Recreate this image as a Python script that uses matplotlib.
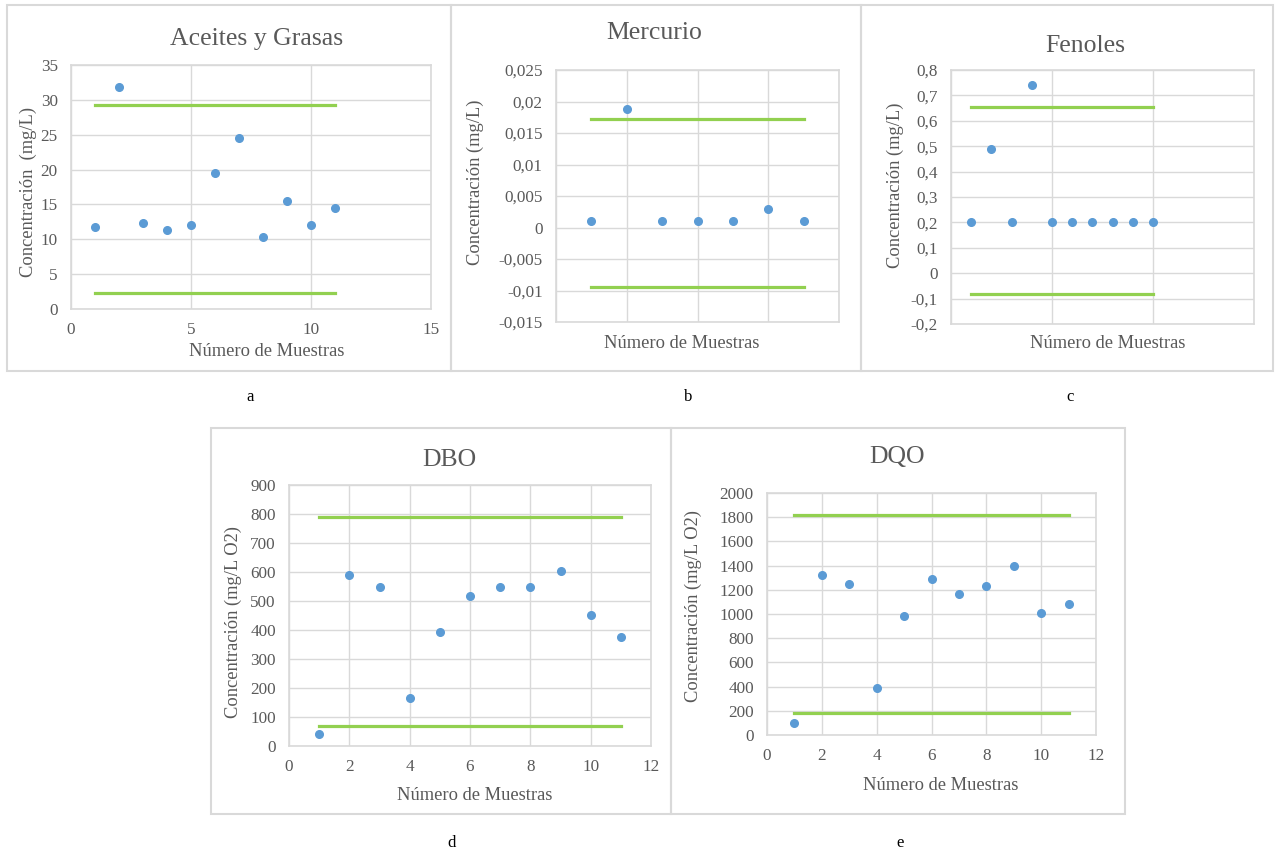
import matplotlib
matplotlib.use('Agg')
import matplotlib.pyplot as plt
from matplotlib.patches import Rectangle
from matplotlib.ticker import FuncFormatter, MultipleLocator
import numpy as np

# DATA
muestras_11 = [1, 2, 3, 4, 5, 6, 7, 8, 9, 10, 11]
aceites = [11.8, 31.8, 12.3, 11.3, 12.0, 19.5, 24.5, 10.3, 15.5, 12.0, 14.5]
aceites_lim = [29.2, 2.3]

muestras_hg = [1, 2, 3, 4, 5, 6, 7]
mercurio = [0.001, 0.0188, 0.001, 0.001, 0.001, 0.003, 0.001]
mercurio_lim = [0.0173, -0.0095]

muestras_fen = [1, 2, 3, 4, 5, 6, 7, 8, 9, 10]
fenoles = [0.2, 0.49, 0.2, 0.74, 0.2, 0.2, 0.2, 0.2, 0.2, 0.2]
fenoles_lim = [0.655, -0.083]

dbo = [40, 588, 548, 165, 393, 518, 548, 548, 605, 452, 375]
dbo_lim = [790, 68]

dqo = [100, 1320, 1250, 385, 985, 1290, 1165, 1235, 1400, 1010, 1080]
dqo_lim = [1820, 180]

# STYLE
W, H = 1275, 852
GREY_TXT = '#595959'
GRID = '#d9d9d9'
BLUE = '#5b9bd5'
GREEN = '#92d050'
plt.rcParams['font.family'] = ['Liberation Serif', 'DejaVu Serif']

fig = plt.figure(figsize=(W / 100, H / 100), dpi=100)


def fx(x): return x / W
def fy(y): return 1 - y / H


def frame(x0, y0, x1, y1):
    fig.patches.append(Rectangle((fx(x0), fy(y1)), fx(x1 - x0), (y1 - y0) / H,
                                 transform=fig.transFigure, fill=False,
                                 edgecolor=GRID, linewidth=1.5))


def comma(v, pos):
    s = '{:g}'.format(round(v, 6))
    if s == '-0':
        s = '0'
    return s.replace('.', ',')


def panel(box, xs, ys, lims, xlim, xstep, ylim, ystep, show_x=True):
    x0, y0, x1, y1 = box
    ax = fig.add_axes([fx(x0), fy(y1), fx(x1 - x0), (y1 - y0) / H])
    ax.set_xlim(*xlim)
    ax.set_ylim(*ylim)
    ax.xaxis.set_major_locator(MultipleLocator(xstep))
    ax.yaxis.set_major_locator(MultipleLocator(ystep))
    ax.yaxis.set_major_formatter(FuncFormatter(comma))
    ax.grid(True, color=GRID, linewidth=1)
    ax.set_axisbelow(True)
    for sp in ax.spines.values():
        sp.set_color(GRID)
        sp.set_linewidth(1.2)
    ax.tick_params(length=0, labelsize=12.3, colors=GREY_TXT, pad=9.5)
    if not show_x:
        ax.set_xticklabels([])
    for lv in lims:
        ax.plot([xs[0], xs[-1]], [lv, lv], color=GREEN, linewidth=2.3, zorder=2)
    ax.plot(xs, ys, 'o', color=BLUE, markersize=5.5, zorder=3)
    return ax


def labels(title, tpos, xpos, ylab, ypos):
    fig.text(fx(tpos[0]), fy(tpos[1]), title, ha='center', va='center',
             fontsize=18.5, color=GREY_TXT)
    fig.text(fx(xpos[0]), fy(xpos[1]), 'Número de Muestras', ha='center',
             va='center', fontsize=13.3, color=GREY_TXT)
    fig.text(fx(ypos[0]), fy(ypos[1]), ylab, ha='center', va='center',
             rotation=90, fontsize=13.3, color=GREY_TXT)


# frames
frame(7, 5, 451, 371)
frame(451, 5, 861, 371)
frame(861, 5, 1273, 371)
frame(211, 428, 671, 814)
frame(671, 428, 1125, 814)

# a
panel((71, 65, 431, 309), muestras_11, aceites, aceites_lim,
      (0, 15), 5, (0, 35), 5)
labels('Aceites y Grasas', (257, 39), (267, 352),
       'Concentración  (mg/L)', (28, 192))

# b
panel((556, 70, 839, 322), muestras_hg, mercurio, mercurio_lim,
      (0, 8), 2, (-0.015, 0.025), 0.005, show_x=False)
labels('Mercurio', (654, 33), (682, 343),
       'Concentración (mg/L)', (475, 182))

# c
panel((951, 70, 1254, 324), muestras_fen, fenoles, fenoles_lim,
      (0, 15), 5, (-0.2, 0.8), 0.1, show_x=False)
labels('Fenoles', (1085, 46), (1108, 343),
       'Concentración (mg/L)', (895, 185))

# d
panel((289, 485, 651, 746), muestras_11, dbo, dbo_lim,
      (0, 12), 2, (0, 900), 100)
labels('DBO', (449, 460), (475, 795),
       'Concentración (mg/L O2)', (233, 622))

# e
panel((767, 493, 1096, 735), muestras_11, dqo, dqo_lim,
      (0, 12), 2, (0, 2000), 200)
labels('DQO', (897, 457), (941, 785),
       'Concentración (mg/L O2)', (693, 606))

# panel letters
for letter, (px, py) in zip('abcde', [(250, 397), (688, 397), (1070, 397),
                                      (452, 843), (900, 843)]):
    fig.text(fx(px), fy(py), letter, ha='center', va='center', fontsize=12,
             color='black')

fig.savefig('out.png', dpi=100)
